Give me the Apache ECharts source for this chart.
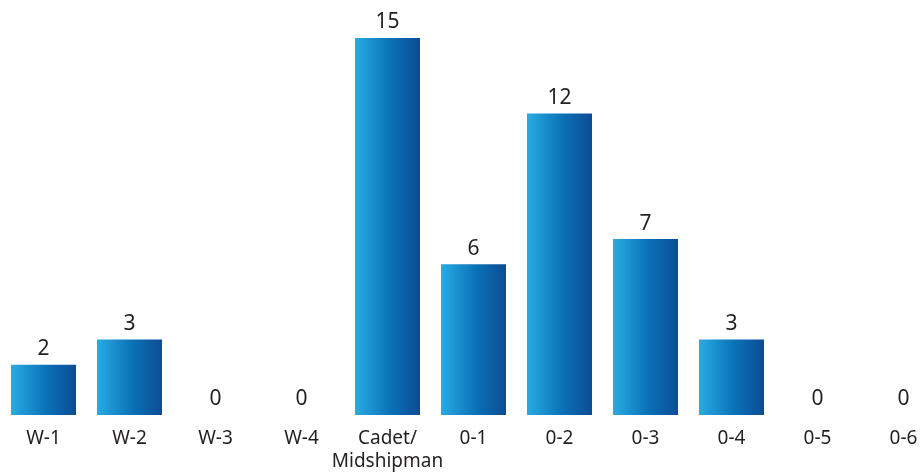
<!DOCTYPE html>
<html>
<head>
<meta charset="utf-8">
<script src="https://cdn.jsdelivr.net/npm/echarts@6/dist/echarts.min.js"></script>
<style>
html,body{margin:0;padding:0;background:#fff;overflow:hidden;width:920px;height:474px;}
#chart{width:947px;height:474px;}
</style>
</head>
<body>
<div id="chart"></div>
<script>
const categories = ['W-1','W-2','W-3','W-4','Cadet/\nMidshipman','0-1','0-2','0-3','0-4','0-5','0-6'];
const values = [2,3,0,0,15,6,12,7,3,0,0];

const chart = echarts.init(document.getElementById('chart'), null, {renderer:'canvas'});
chart.setOption({
  animation: false,
  backgroundColor: '#ffffff',
  grid: {left: 0.5, right: 0.5, top: 38, bottom: 59, containLabel: false},
  xAxis: {
    type: 'category',
    data: categories,
    axisLine: {show: false},
    axisTick: {show: false},
    axisLabel: {
      color: '#231f20',
      fontSize: 19,
      fontFamily: '"Noto Sans", sans-serif',
      margin: 12,
      lineHeight: 23,
      interval: 0
    }
  },
  yAxis: {
    type: 'value',
    min: 0,
    max: 15,
    show: false,
    splitLine: {show: false}
  },
  series: [{
    type: 'bar',
    data: values,
    barWidth: 65,
    itemStyle: {
      color: new echarts.graphic.LinearGradient(0, 0, 1, 0, [
        {offset: 0, color: '#29abe2'},
        {offset: 0.55, color: '#0a71b7'},
        {offset: 1, color: '#0d4c94'}
      ])
    },
    label: {
      show: true,
      position: 'top',
      distance: 5,
      color: '#231f20',
      fontSize: 21,
      fontFamily: '"Noto Sans", sans-serif'
    }
  }]
});
</script>
</body>
</html>
